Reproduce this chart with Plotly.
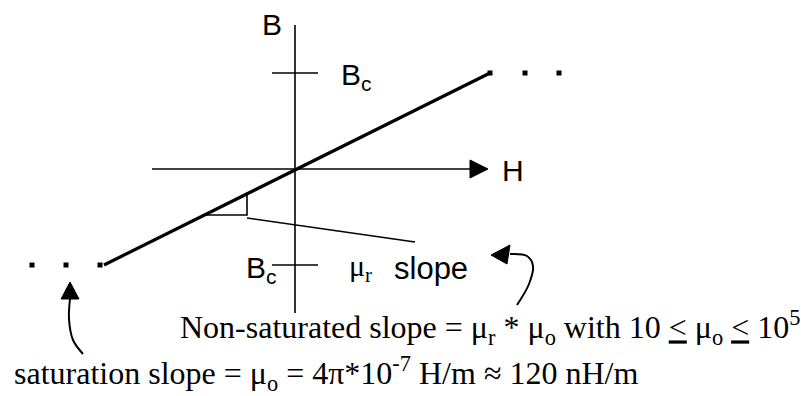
import plotly.graph_objects as go

# ---- data (H, B coordinates; origin at axes crossing) ----
H_c = 193          # saturation field
B_c = 96           # saturation flux density
line_H = [-191, 195]
line_B = [-96, 96]
dots_right_H = [195, 230, 264]
dots_right_B = [96, 96, 96]
dots_left_H = [-195, -229, -263]
dots_left_B = [-96, -96, -96]
B_axis_B = [144, -144]
H_axis_H = [-143, 178]
H_arrow_tip = 193
tri_H = [-92, -48, -48]
tri_B = [-46, -46, -24]
pointer_H = [-48, 120]
pointer_B = [-49, -73]

SANS = "Liberation Sans, Arial, sans-serif"
SERIF = "Liberation Serif, Times New Roman, serif"
BLACK = "#000000"

fig = go.Figure()

# axes
fig.add_trace(go.Scatter(x=[0, 0], y=B_axis_B, mode="lines",
                         line=dict(color=BLACK, width=1.6), hoverinfo="skip"))
fig.add_trace(go.Scatter(x=H_axis_H, y=[0, 0], mode="lines",
                         line=dict(color=BLACK, width=1.6), hoverinfo="skip"))
# H arrow head
fig.add_trace(go.Scatter(x=[H_arrow_tip - 18, H_arrow_tip, H_arrow_tip - 18, H_arrow_tip - 18],
                         y=[9, 0, -9, 9], mode="lines", fill="toself", fillcolor=BLACK,
                         line=dict(color=BLACK, width=1), hoverinfo="skip"))
# Bc ticks
for b in [B_c, -B_c]:
    fig.add_trace(go.Scatter(x=[-23, 23], y=[b, b], mode="lines",
                             line=dict(color=BLACK, width=1.6), hoverinfo="skip"))

# main B-H line
fig.add_trace(go.Scatter(x=line_H, y=line_B, mode="lines",
                         line=dict(color=BLACK, width=3.2), hoverinfo="skip"))
# saturation dots
fig.add_trace(go.Scatter(x=dots_right_H + dots_left_H, y=dots_right_B + dots_left_B,
                         mode="markers", marker=dict(symbol="square", size=5, color=BLACK),
                         hoverinfo="skip"))
# slope triangle + pointer
fig.add_trace(go.Scatter(x=tri_H, y=tri_B, mode="lines",
                         line=dict(color=BLACK, width=1.6), hoverinfo="skip"))
fig.add_trace(go.Scatter(x=pointer_H, y=pointer_B, mode="lines",
                         line=dict(color=BLACK, width=1.6), hoverinfo="skip"))

# curved arrow (right)
fig.add_trace(go.Scatter(x=[222, 234, 238, 232, 215], y=[-136, -115, -97, -87, -85],
                         mode="lines", line=dict(color=BLACK, width=2, shape="spline"),
                         hoverinfo="skip"))
fig.add_trace(go.Scatter(x=[196, 215, 212, 196], y=[-86, -76, -95, -86], mode="lines",
                         fill="toself", fillcolor=BLACK, line=dict(color=BLACK, width=1),
                         hoverinfo="skip"))
# curved arrow (left)
fig.add_trace(go.Scatter(x=[-225, -226, -222, -212], y=[-130, -150, -171, -185],
                         mode="lines", line=dict(color=BLACK, width=2, shape="spline"),
                         hoverinfo="skip"))
fig.add_trace(go.Scatter(x=[-225, -216, -234, -225], y=[-113, -130, -130, -113], mode="lines",
                         fill="toself", fillcolor=BLACK, line=dict(color=BLACK, width=1),
                         hoverinfo="skip"))

ann = []
def txt(x, y, s, size, fam, xa="left", ya="middle"):
    ann.append(dict(x=x, y=y, text=s, showarrow=False, xanchor=xa, yanchor=ya,
                    font=dict(size=size, family=fam, color=BLACK)))

txt(-23, 145, "B", 30, SANS, xa="center")
txt(44, 93, "B<sub>c</sub>", 30, SANS)
txt(205, -1, "H", 30, SANS)
txt(-16, -100, "B<sub>c</sub>", 30, SANS, xa="right")
txt(52, -99, "μ<sub>r</sub>", 30, SERIF)
txt(97, -99, "slope", 31, SANS)
txt(-117, -158, "Non-saturated slope = μ<sub>r</sub> * μ<sub>o</sub> with 10 <u>&lt;</u> μ<sub>o</sub> <u>&lt;</u> 10<sup>5</sup>",
    32, SERIF)
txt(-283, -204, "saturation slope = μ<sub>o</sub> = 4π*10<sup>-7</sup> H/m ≈ 120 nH/m", 32, SERIF)

fig.update_layout(
    width=801, height=396, margin=dict(l=0, r=0, t=0, b=0),
    paper_bgcolor="white", plot_bgcolor="white", showlegend=False,
    xaxis=dict(range=[-295, 506], visible=False, fixedrange=True),
    yaxis=dict(range=[-227, 169], visible=False, fixedrange=True),
    annotations=ann,
)
fig.write_html("out.html", config={"displayModeBar": False},
               post_script="document.body.style.margin='0';")
